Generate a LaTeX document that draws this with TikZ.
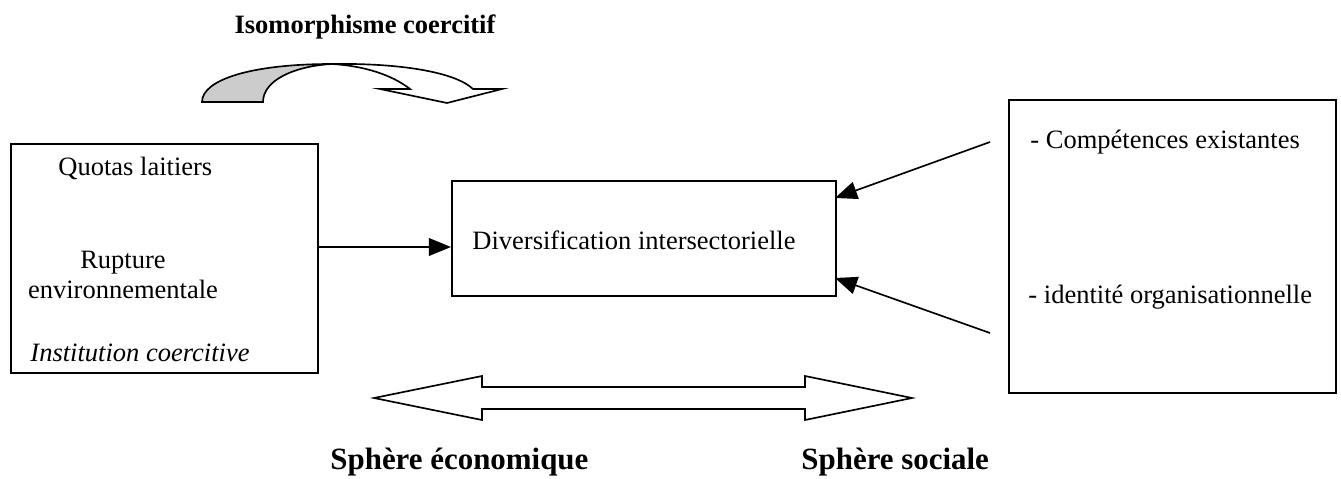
\documentclass[tikz,border=0pt]{standalone}
\usepackage{fontspec}
\setmainfont{Liberation Serif}
\usepackage{tikz}
\usetikzlibrary{arrows.meta,positioning}

\def\pxl{0.4528pt}

\begin{document}
\begin{tikzpicture}[x=\pxl, y=-\pxl,
    font=\fontsize{12pt}{13.8pt}\selectfont,
    box/.style={draw, line width=0.75pt, inner sep=0pt, anchor=north west},
    txt/.style={inner sep=0pt, anchor=west},
    conn/.style={line width=0.75pt, -{Triangle[length=10pt, width=8pt]}},
    sphere/.style={inner sep=0pt, anchor=west, font=\fontsize{14pt}{16pt}\selectfont\bfseries}]
      \useasboundingbox (0,0) rectangle (1341,479);
      % title and curved arrow
      \node[inner sep=0pt, font=\fontsize{12pt}{13.8pt}\selectfont\bfseries] (iso) at (365,27) {Isomorphisme coercitif};
      \draw[line width=0.75pt, fill=black!20]
        (202,102) .. controls (202,80) and (250,64) .. (332,64)
        .. controls (295,66) and (263,80) .. (263,102) -- cycle;
      \draw[line width=0.75pt, fill=white]
        (332,64) .. controls (400,63) and (455,72) .. (473,89) -- (502,89) -- (447,103)
        -- (380,89) -- (410,89) .. controls (392,75) and (365,66) .. (332,64) -- cycle;
      % three boxes
      \node[box, minimum width=307*\pxl, minimum height=229*\pxl] (inst) at (10,143) {};
      \node[box, minimum width=384*\pxl, minimum height=115*\pxl] (div) at (451,180) {};
      \node[box, minimum width=327*\pxl, minimum height=293*\pxl] (soc) at (1008,99) {};
      \node[txt] (quotas) at (58,168) {Quotas laitiers};
      \node[inner sep=0pt, align=center] (rupt) at (123,275) {Rupture\\environnementale};
      \node[txt, font=\fontsize{12pt}{13.8pt}\selectfont\itshape] (coerc) at (30,353) {Institution coercitive};
      \node[txt] (divtxt) at (472,240) {Diversification intersectorielle};
      \node[txt] (comp) at (1030,142) {- Compétences existantes};
      \node[txt] (ident) at (1028,297) {- identité organisationnelle};
      % connectors
      \coordinate (l1) at (317,247);
      \coordinate (r1) at (990,142);
      \coordinate (r2) at (990,333);
      \coordinate (t1) at (835,198);
      \coordinate (t2) at (835,278);
      \draw[conn] (l1) -- (div.west |- l1);
      \draw[conn] (r1) -- (t1);
      \draw[conn] (r2) -- (t2);
      % double arrow between the two spheres
      \draw[line width=0.75pt]
        (374,398) -- (482,376) -- (482,387) -- (805,387) -- (805,376) -- (912,398)
        -- (805,420) -- (805,409) -- (482,409) -- (482,420) -- cycle;
      \node[sphere] (eco) at (330,462) {Sphère économique};
      \node[sphere] (socl) at (801,462) {Sphère sociale};
    \end{tikzpicture}
\end{document}
